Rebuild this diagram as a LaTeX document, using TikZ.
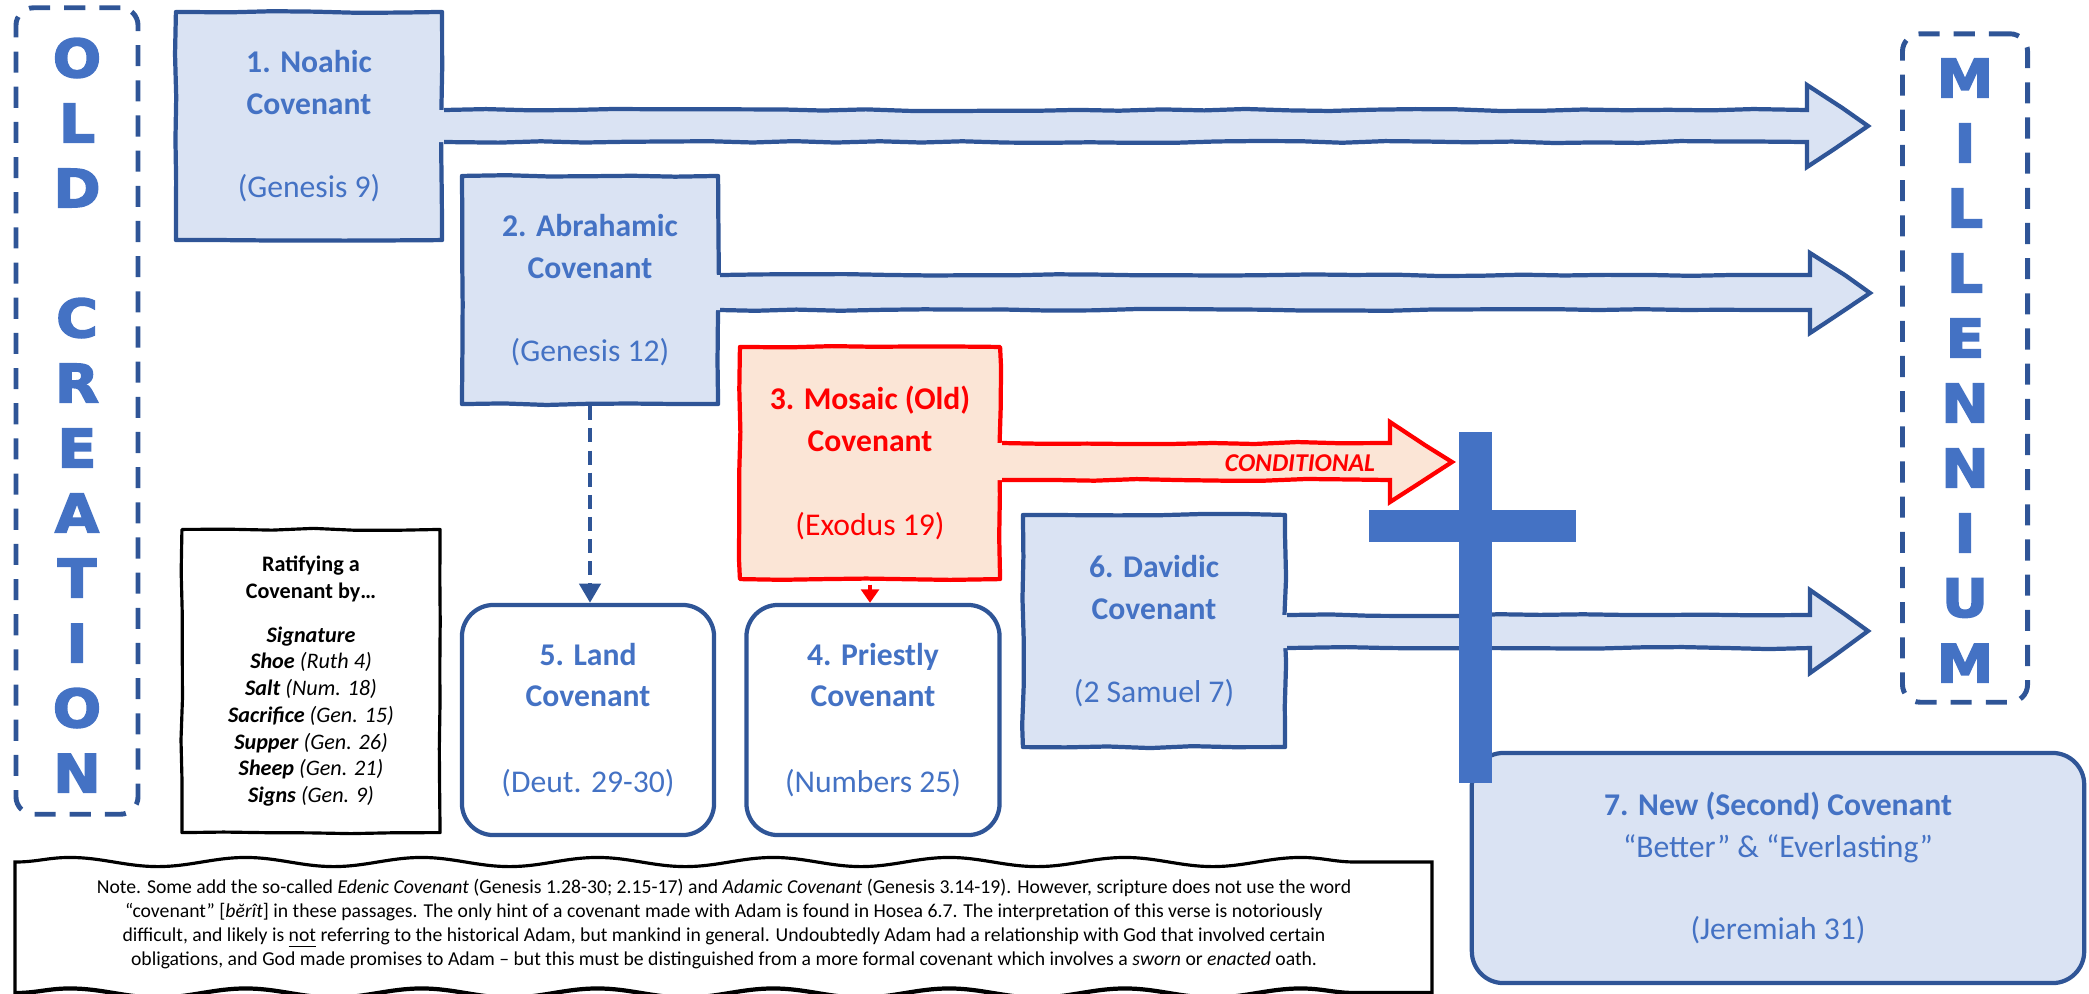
\documentclass[tikz,border=0pt]{standalone}
\usepackage{fontspec}
\setmainfont{Carlito}
\newfontfamily\heavyfont{DejaVu Sans}[BoldFeatures={FakeBold=3, FakeStretch=1.08}]
\usetikzlibrary{decorations.pathmorphing,calc,arrows.meta}
\definecolor{cvfill}{HTML}{DAE3F3}
\definecolor{cvline}{HTML}{2F5597}
\definecolor{cvtext}{HTML}{4472C4}
\definecolor{mofill}{HTML}{FBE5D6}
\definecolor{mored}{HTML}{FF0000}
\tikzset{
  sketch/.style={decorate, decoration={random steps, segment length=12pt, amplitude=0.3pt}, line join=round},
  boxfont/.style={font=\fontsize{9}{11.9}\selectfont},
  cbox/.style={sketch, draw=cvline, fill=cvfill, line width=1.2pt, text=cvtext, align=center, inner sep=0pt, boxfont},
  mbox/.style={cbox, draw=mored, fill=mofill, text=mored},
  rbox/.style={draw=cvline, fill=white, line width=1.2pt, rounded corners=9pt, text=cvtext, align=center, inner sep=0pt, boxfont},
  nbox/.style={rbox, fill=cvfill},
  kbox/.style={sketch, draw=black, fill=white, line width=0.9pt, align=center, inner sep=0pt, font=\fontsize{6.3}{7.6}\selectfont},
  dbox/.style={draw=cvline, line width=1.4pt, dash pattern=on 6pt off 4pt, rounded corners=5pt},
  bigletter/.style={text=cvtext, font=\heavyfont\bfseries\fontsize{15}{15}\selectfont, inner sep=0pt},
  blarrow/.style={sketch, line width=1.2pt, line join=miter},
  notefont/.style={font=\fontsize{5.6}{6.8}\selectfont, align=center, inner sep=0pt},
  wavy/.style={decorate, decoration={snake, segment length=50pt, amplitude=1.3pt}},
}
\begin{document}
\begin{tikzpicture}[x=0.01cm, y=-0.01cm]
\pgfmathsetseed{11}
\useasboundingbox (0,0) rectangle (2089,993);

% side panels
\node[dbox, minimum width=1.22cm, minimum height=8.06cm] (oldbox) at (77,411) {};
\foreach \l [count=\i] in {O,L,D}
  \node[bigletter] (old\i) at (77,{58+65*(\i-1)}) {\l};
\foreach \l [count=\i] in {C,R,E,A,T,I,O,N}
  \node[bigletter] (cre\i) at (77,{318+65*(\i-1)}) {\l};
\node[dbox, minimum width=1.25cm, minimum height=6.68cm] (millbox) at (1965,368) {};
\foreach \l [count=\i] in {M,I,L,L,E,N,N,I,U,M}
  \node[bigletter] (mil\i) at (1965,{78+65*(\i-1)}) {\l};

% covenant boxes
\node[cbox, minimum width=2.66cm, minimum height=2.28cm] (noah) at (309,126)
  {\textbf{1. Noahic}\\\textbf{Covenant}\\[11.8pt](Genesis 9)};
\node[cbox, minimum width=2.56cm, minimum height=2.28cm] (abra) at (590,290)
  {\textbf{2. Abrahamic}\\\textbf{Covenant}\\[11.8pt](Genesis 12)};
\node[mbox, minimum width=2.60cm, minimum height=2.32cm] (mosaic) at (870,463)
  {\textbf{3. Mosaic (Old)}\\\textbf{Covenant}\\[11.8pt](Exodus 19)};
\node[cbox, minimum width=2.62cm, minimum height=2.32cm] (david) at (1154,631)
  {\textbf{6. Davidic}\\\textbf{Covenant}\\[11.8pt](2 Samuel 7)};
\node[rbox, minimum width=2.52cm, minimum height=2.30cm] (land) at (588,720)
  {\textbf{5. Land}\\\textbf{Covenant}\\[12.5pt](Deut. 29-30)};
\node[rbox, minimum width=2.53cm, minimum height=2.30cm] (priest) at (873,720)
  {\textbf{4. Priestly}\\\textbf{Covenant}\\[12.5pt](Numbers 25)};
\node[nbox, minimum width=6.12cm, minimum height=2.30cm] (newc) at (1778,868)
  {\textbf{7. New (Second) Covenant}\\“Better” \& “Everlasting”\\[11.5pt](Jeremiah 31)};

% ratifying box
\node[kbox, minimum width=2.58cm, minimum height=3.03cm] (ratify) at (311,681)
  {\textbf{Ratifying a}\\\textbf{Covenant by…}\\[4.9pt]
   \textbf{\textit{Signature}}\\
   \textbf{\textit{Shoe}} \textit{(Ruth 4)}\\
   \textbf{\textit{Salt}} \textit{(Num. 18)}\\
   \textbf{\textit{Sacrifice}} \textit{(Gen. 15)}\\
   \textbf{\textit{Supper}} \textit{(Gen. 26)}\\
   \textbf{\textit{Sheep}} \textit{(Gen. 21)}\\
   \textbf{\textit{Signs}} \textit{(Gen. 9)}};

% big arrows to the Millennium
\coordinate (tip1) at (1868,126);
\fill[cvfill] ($(noah.east |- 0,110)+(-5,0)$) -- (1807,110) -- (1807,85) -- (tip1) -- (1807,167) -- (1807,142) -- ($(noah.east |- 0,142)+(-5,0)$) -- cycle;
\draw[blarrow, draw=cvline] (noah.east |- 0,110) -- (1807,110) -- (1807,85) -- (tip1) -- (1807,167) -- (1807,142) -- (noah.east |- 0,142);

\coordinate (tip2) at (1870,293);
\fill[cvfill] ($(abra.east |- 0,275)+(-5,0)$) -- (1810,275) -- (1810,253) -- (tip2) -- (1810,333) -- (1810,310) -- ($(abra.east |- 0,310)+(-5,0)$) -- cycle;
\draw[blarrow, draw=cvline] (abra.east |- 0,275) -- (1810,275) -- (1810,253) -- (tip2) -- (1810,333) -- (1810,310) -- (abra.east |- 0,310);

\coordinate (tip6) at (1868,631);
\fill[cvfill] ($(david.east |- 0,615)+(-5,0)$) -- (1810,615) -- (1810,590) -- (tip6) -- (1810,673) -- (1810,648) -- ($(david.east |- 0,648)+(-5,0)$) -- cycle;
\draw[blarrow, draw=cvline] (david.east |- 0,615) -- (1810,615) -- (1810,590) -- (tip6) -- (1810,673) -- (1810,648) -- (david.east |- 0,648);

% conditional arrow
\coordinate (tip3) at (1452,462);
\fill[mofill] ($(mosaic.east |- 0,443)+(-5,0)$) -- (1390,443) -- (1390,422) -- (tip3) -- (1390,502) -- (1390,480) -- ($(mosaic.east |- 0,480)+(-5,0)$) -- cycle;
\draw[blarrow, draw=mored] (mosaic.east |- 0,443) -- (1390,443) -- (1390,422) -- (tip3) -- (1390,502) -- (1390,480) -- (mosaic.east |- 0,480);
\node[text=mored, font=\fontsize{7.3}{8}\selectfont\bfseries\itshape, inner sep=0pt] (cond) at (1300,463) {CONDITIONAL};

% connectors
\draw[cvline, line width=1.3pt, dash pattern=on 4pt off 2.3pt, -{Triangle[length=5.5pt, width=6pt]}] (abra.south) -- (abra.south |- land.north);
\draw[mored, line width=1.3pt, -{Triangle[length=3.8pt, width=5pt]}] ([yshift=-1pt]mosaic.south) -- (mosaic.south |- priest.north);

% note box
\node[notefont] (note) at (724,924)
  {Note. Some add the so-called \textit{Edenic Covenant} (Genesis 1.28-30; 2.15-17) and \textit{Adamic Covenant} (Genesis 3.14-19). However, scripture does not use the word\\
   “covenant” [\textit{bĕrît}] in these passages. The only hint of a covenant made with Adam is found in Hosea 6.7. The interpretation of this verse is notoriously\\
   difficult, and likely is \underline{not} referring to the historical Adam, but mankind in general. Undoubtedly Adam had a relationship with God that involved certain\\
   obligations, and God made promises to Adam – but this must be distinguished from a more formal covenant which involves a \textit{sworn} or \textit{enacted} oath.};
\coordinate (nsw) at (15,1010);
\coordinate (nnw) at (15,862);
\coordinate (nne) at (1432,862);
\coordinate (nse) at (1432,1010);
\draw[line width=0.9pt] (nsw) -- (nnw) decorate[wavy] {-- (nne)} -- (nse);
\draw[line width=1.2pt] (15,993) decorate[wavy] {-- (1432,993)};

% cross
\fill[cvtext] (1459,432) rectangle (1492,783);
\fill[cvtext] (1369,510) rectangle (1576,542);
\end{tikzpicture}
\end{document}
